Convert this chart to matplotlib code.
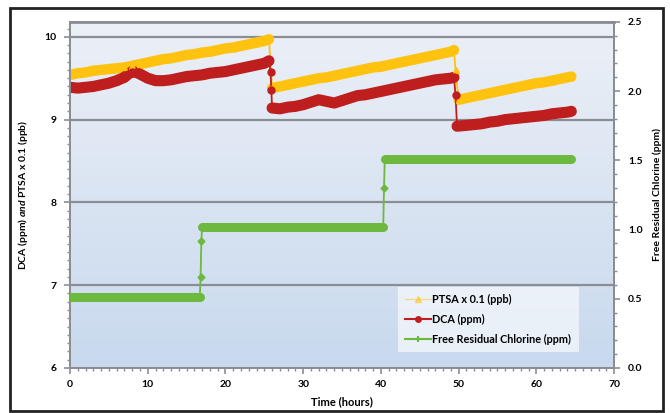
import numpy as np
import matplotlib
matplotlib.use("Agg")
import matplotlib.pyplot as plt
from matplotlib.lines import Line2D
from matplotlib.patches import Rectangle
from matplotlib.colors import LinearSegmentedColormap

plt.rcParams['font.family'] = ['Lato', 'DejaVu Sans']
plt.rcParams['mathtext.fontset'] = 'custom'
plt.rcParams['mathtext.rm'] = 'Lato:bold'
plt.rcParams['mathtext.it'] = 'Lato:italic:bold'

# ---------------- data ----------------
ptsa_t = [0, 1, 2, 3, 4, 5, 6, 7, 8, 9, 10, 11, 12, 13, 14, 15, 16, 17, 18, 19, 20,
          21, 22, 23, 24, 25, 25.6,
          26, 27, 28, 29, 30, 31, 32, 33, 34, 35, 36, 37, 38, 39, 40, 41, 42, 43, 44,
          45, 46, 47, 48, 49, 49.4, 49.6,
          50, 51, 52, 53, 54, 55, 56, 57, 58, 59, 60, 61, 62, 63, 64, 64.5]
ptsa_v = [9.54, 9.56, 9.57, 9.59, 9.60, 9.61, 9.62, 9.63, 9.65, 9.67, 9.69, 9.71, 9.73,
          9.74, 9.76, 9.78, 9.79, 9.81, 9.82, 9.84, 9.86, 9.87, 9.89, 9.91, 9.93, 9.95, 9.97,
          9.38, 9.40, 9.42, 9.44, 9.46, 9.48, 9.50, 9.51, 9.53, 9.55, 9.57, 9.59, 9.61,
          9.63, 9.64, 9.66, 9.68, 9.70, 9.72, 9.74, 9.76, 9.78, 9.80, 9.82, 9.84, 9.60,
          9.24, 9.26, 9.28, 9.30, 9.32, 9.34, 9.36, 9.38, 9.40, 9.42, 9.44, 9.45, 9.47,
          9.49, 9.51, 9.52]

dca_t = [0, 1, 2, 3, 4, 5, 6, 7, 7.5, 8, 8.5, 9, 10, 11, 12, 13, 14, 15, 16, 17, 18,
         19, 20, 21, 22, 23, 24, 25, 25.6, 25.8, 25.9,
         26, 27, 28, 29, 30, 31, 32, 33, 34, 35, 36, 37, 38, 39, 40, 41, 42, 43, 44, 45,
         46, 47, 48, 49, 49.4, 49.6,
         49.8, 51, 52, 53, 54, 55, 56, 57, 58, 59, 60, 61, 62, 63, 64, 64.5]
dca_v = [9.39, 9.38, 9.39, 9.40, 9.42, 9.44, 9.47, 9.51, 9.55, 9.58, 9.57, 9.55, 9.50,
         9.47, 9.47, 9.48, 9.50, 9.52, 9.53, 9.54, 9.56, 9.57, 9.58, 9.60, 9.62, 9.64,
         9.66, 9.68, 9.71, 9.58, 9.36,
         9.14, 9.13, 9.15, 9.16, 9.18, 9.21, 9.24, 9.22, 9.20, 9.23, 9.26, 9.29, 9.30,
         9.32, 9.34, 9.36, 9.38, 9.40, 9.42, 9.44, 9.46, 9.48, 9.49, 9.50, 9.51, 9.30,
         8.92, 8.93, 8.94, 8.95, 8.97, 8.98, 9.00, 9.01, 9.02, 9.03, 9.04, 9.05, 9.07,
         9.08, 9.09, 9.10]

frc_t = [0, 4, 8, 12, 16.7, 16.8, 16.9, 17.0, 22, 28, 34, 40.3, 40.4, 40.5, 46, 52, 58, 64.5]
frc_v = [0.51, 0.51, 0.51, 0.51, 0.51, 0.66, 0.92, 1.02, 1.02, 1.02, 1.02, 1.02, 1.30,
         1.51, 1.51, 1.51, 1.51, 1.51]

labels = ['PTSA x 0.1 (ppb)', 'DCA (ppm)', 'Free Residual Chlorine (ppm)']
x_ticks = [0, 10, 20, 30, 40, 50, 60, 70]
left_ticks = [6, 7, 8, 9, 10]
right_ticks = [0.0, 0.5, 1.0, 1.5, 2.0, 2.5]

# ---------------- style ----------------
c_ptsa = '#FFC20E'
c_dca = '#BE1E1E'
c_frc = '#6DB83E'
grey = '#8A8E94'

fig = plt.figure(figsize=(6.7, 4.13), dpi=100)
fig.patch.set_facecolor('white')
ax = fig.add_axes([0.1045, 0.109, 0.812, 0.838])
ax2 = ax.twinx()

ax.set_xlim(0, 70)
ax.set_ylim(6, 10.18)
ax2.set_ylim(0, 2.5)

# gradient background
grad = np.linspace(0, 1, 256).reshape(-1, 1)
cmap = LinearSegmentedColormap.from_list('bg', ['#C8D9EE', '#ECF0F7'])
ax.imshow(grad, extent=[0, 70, 6, 10.18], origin='lower', aspect='auto',
          cmap=cmap, zorder=0, interpolation='bicubic')

# grid
for y in left_ticks[1:]:
    ax.axhline(y, color=grey, lw=1.6, zorder=1)


def draw_series(a, t, v, color, marker, thr=0.09, lw_band=7.0, ms=4.5):
    t = np.asarray(t)
    v = np.asarray(v)
    a.plot(t, v, color=color, lw=1.3, zorder=3, solid_capstyle='round')
    breaks = np.where(np.abs(np.diff(v)) > thr)[0]
    starts = np.concatenate([[0], breaks + 1])
    ends = np.concatenate([breaks + 1, [len(v)]])
    for s, e in zip(starts, ends):
        if e - s >= 2:
            a.plot(t[s:e], v[s:e], color=color, lw=lw_band, zorder=3,
                   solid_capstyle='round', solid_joinstyle='round')
    a.plot(t, v, ls='none', marker=marker, color=color, ms=ms, zorder=4)


draw_series(ax, ptsa_t, ptsa_v, c_ptsa, '^', lw_band=7.5)
draw_series(ax, dca_t, dca_v, c_dca, 'o', lw_band=8.0, ms=5)
draw_series(ax2, frc_t, frc_v, c_frc, 'D', ms=3.5, lw_band=6.5)

# spines & ticks
for a in (ax, ax2):
    for s in a.spines.values():
        s.set_color(grey)
        s.set_linewidth(1.4)
ax.spines['top'].set_linewidth(2.0)

ax.set_xticks(x_ticks)
ax.set_xticks(np.arange(0, 71, 1), minor=True)
ax.set_yticks(left_ticks)
ax.set_yticks(np.arange(6, 10.18, 0.1), minor=True)
ax2.set_yticks(right_ticks)
ax2.set_yticks(np.arange(0, 2.51, 0.1), minor=True)
ax2.set_yticklabels([f'{v:.1f}' for v in right_ticks])

for a in (ax, ax2):
    a.tick_params(which='major', direction='out', length=4, width=1.2, color=grey,
                  labelsize=7.5, pad=6)
    a.tick_params(which='minor', direction='out', length=2, width=1.0, color=grey)
for lab in ax.get_xticklabels() + ax.get_yticklabels() + ax2.get_yticklabels():
    lab.set_fontweight('bold')
ax.tick_params(axis='x', pad=5)

ax.set_xlabel('Time (hours)', fontsize=8, fontweight='bold', labelpad=5)
ax.set_ylabel('DCA (ppm) $\\it{and}$ PTSA x 0.1 (ppb)', fontsize=7.5,
              fontweight='bold', labelpad=10)
ax2.set_ylabel('Free Residual Chlorine (ppm)', fontsize=7.5, fontweight='bold',
               labelpad=7)

# legend
handles = [
    Line2D([], [], color=c_ptsa, lw=1, alpha=0.5, marker='^', ms=5,
           markerfacecolor=c_ptsa, markeredgecolor=c_ptsa),
    Line2D([], [], color=c_dca, lw=1.5, marker='o', ms=4),
    Line2D([], [], color=c_frc, lw=1.5, marker='+', ms=5, mew=1.5),
]
leg = ax2.legend(handles, labels, loc='lower left', bbox_to_anchor=(0.592, 0.03),
                 frameon=True, fancybox=False, handlelength=2.4,
                 handletextpad=0.1, borderpad=0.7, labelspacing=0.8,
                 prop={'weight': 'bold', 'size': 7.8})
leg.get_frame().set_facecolor('white')
leg.get_frame().set_alpha(0.6)
leg.get_frame().set_edgecolor('none')

# outer frame
fig.patches.append(Rectangle((0.015, 0.006), 0.975, 0.975, transform=fig.transFigure,
                             fill=False, edgecolor='#222222', lw=2.0))

fig.savefig('out.png', dpi=100)
